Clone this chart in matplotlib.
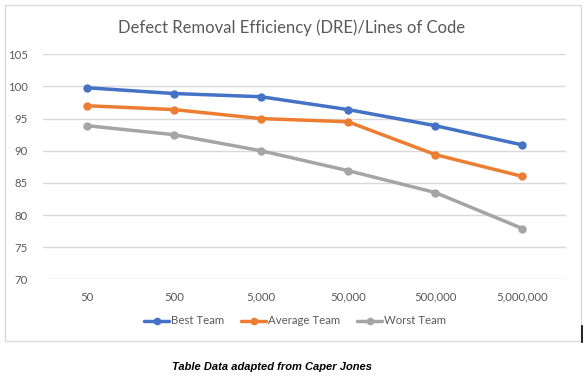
import matplotlib.pyplot as plt
from matplotlib.patches import Rectangle
from matplotlib.lines import Line2D

categories = ['50', '500', '5,000', '50,000', '500,000', '5,000,000']
best_team = [99.8, 98.9, 98.4, 96.4, 93.9, 90.9]
average_team = [97.0, 96.4, 95.0, 94.5, 89.4, 86.0]
worst_team = [93.9, 92.5, 90.0, 86.9, 83.5, 77.9]
y_ticks = [70, 75, 80, 85, 90, 95, 100, 105]

series = [('Best Team', best_team, '#4472C4'),
          ('Average Team', average_team, '#ED7D31'),
          ('Worst Team', worst_team, '#A5A5A5')]

text_col = '#595959'
plt.rcParams['font.family'] = ['Lato', 'DejaVu Sans']

fig = plt.figure(figsize=(5.87, 3.78), dpi=100)
W, H = 587, 378

# chart area border
fig.add_artist(Rectangle((5 / W, 1 - 341 / H), 576 / W, 336 / H, transform=fig.transFigure,
                         fill=False, edgecolor='#D9D9D9', linewidth=1))
# little black mark at the right edge
fig.add_artist(Line2D([581.5 / W, 581.5 / W], [1 - 326 / H, 1 - 342 / H], transform=fig.transFigure,
                      color='black', linewidth=1.2))

ax = fig.add_axes([43 / W, 1 - 279.3 / H, 523 / W, 225 / H])
x = list(range(len(categories)))
for name, vals, col in series:
    ax.plot(x, vals, color=col, linewidth=2.5, marker='o', markersize=5, label=name,
            solid_capstyle='round')

ax.set_ylim(70, 105)
ax.set_xlim(-0.5, len(categories) - 0.5)
ax.set_yticks(y_ticks)
ax.set_xticks(x)
ax.set_xticklabels(categories)
ax.yaxis.grid(True, color='#D9D9D9', linewidth=1)
ax.set_axisbelow(True)
for s in ax.spines.values():
    s.set_visible(False)
ax.tick_params(axis='both', length=0, labelsize=8.2, labelcolor=text_col)
ax.tick_params(axis='x', pad=9)
ax.tick_params(axis='y', pad=11)

fig.text(292 / W, 1 - 28 / H, 'Defect Removal Efficiency (DRE)/Lines of Code',
         ha='center', va='center', fontsize=12, color=text_col)

leg = ax.legend(loc='center', bbox_to_anchor=(295 / W, 1 - 321 / H),
                bbox_transform=fig.transFigure, ncol=3, frameon=False,
                fontsize=8.2, handlelength=2.2, handletextpad=0.15, columnspacing=1.5,
                markerscale=0.9)
for t in leg.get_texts():
    t.set_color(text_col)

fig.text(272 / W, 1 - 367 / H, 'Table Data adapted from Caper Jones',
         ha='center', va='center', fontsize=8, fontweight='bold', fontstyle='italic',
         family=['Liberation Sans Narrow', 'Liberation Sans', 'DejaVu Sans'], color='black')

fig.savefig('out.png', dpi=100)
